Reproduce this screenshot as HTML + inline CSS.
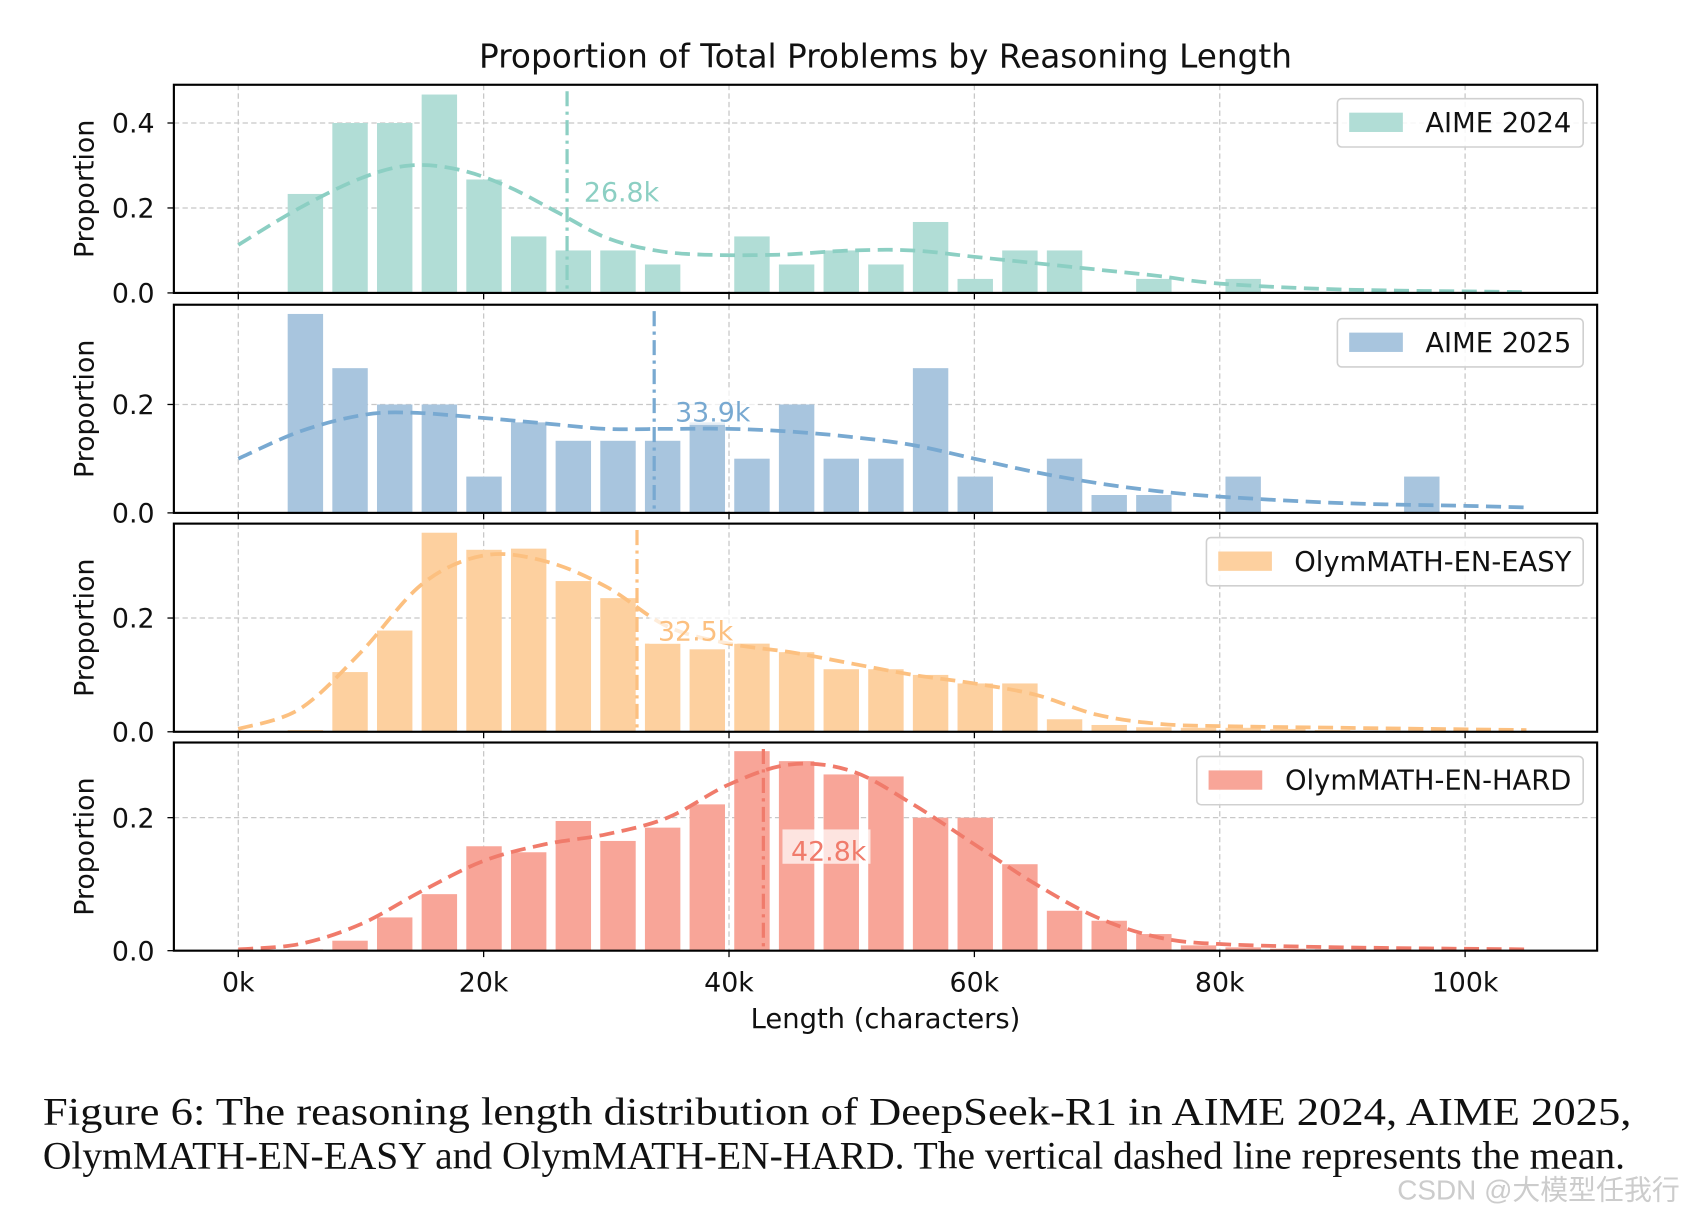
<!DOCTYPE html>
<html><head><meta charset="utf-8"><style>
html,body{margin:0;padding:0;background:#fff;}
svg{display:block;}
text{font-family:"DejaVu Sans","Liberation Sans",sans-serif;}
</style></head><body>
<svg id="chart" width="1683" height="1220" viewBox="0 0 1568 1137" preserveAspectRatio="none" xmlns="http://www.w3.org/2000/svg">
<text x="825" y="63" font-size="30.5" text-anchor="middle" fill="#111">Proportion of Total Problems by Reasoning Length</text>
<text x="825" y="958" font-size="25.5" text-anchor="middle" fill="#111">Length (characters)</text>
<text x="40" y="1048" font-size="36" textLength="1480" lengthAdjust="spacingAndGlyphs" fill="#111" style="font-family:'Liberation Serif',serif">Figure 6:  The reasoning length distribution of DeepSeek-R1 in AIME 2024, AIME 2025,</text>
<text x="40" y="1089" font-size="36" textLength="1474" lengthAdjust="spacingAndGlyphs" fill="#111" style="font-family:'Liberation Serif',serif">OlymMATH-EN-EASY and OlymMATH-EN-HARD. The vertical dashed line represents the mean.</text>
<text x="1565" y="1118" font-size="26" text-anchor="end" fill="#ccc" style="font-family:'Liberation Sans','Noto Sans CJK SC',sans-serif">CSDN @大模型任我行</text>
</svg>
<script>
const xTicks = [0, 20, 40, 60, 80, 100];
const xTickLabels = ["0k", "20k", "40k", "60k", "80k", "100k"];
const binStart = 5.47, binStep = 3.64;
const names = ["AIME 2024", "AIME 2025", "OlymMATH-EN-EASY", "OlymMATH-EN-HARD"];
const means = [26.8, 33.9, 32.5, 42.8];
const vals2024 = [0.233,0.4,0.4,0.467,0.267,0.133,0.1,0.1,0.067,0,0.133,0.067,0.1,0.067,0.167,0.033,0.1,0.1,0,0.033,0,0.033];
const vals2025 = [0.367,0.267,0.2,0.2,0.067,0.167,0.133,0.133,0.133,0.167,0.1,0.2,0.1,0.1,0.267,0.067,0,0.1,0.033,0.033,0,0.067,0,0,0,0.067];
const valsEasy = [0.003,0.105,0.178,0.35,0.32,0.322,0.265,0.235,0.155,0.145,0.155,0.14,0.11,0.11,0.1,0.085,0.085,0.022,0.012,0.008,0.007,0.007,0.005,0.003];
const valsHard = [0.002,0.015,0.05,0.085,0.157,0.148,0.195,0.165,0.185,0.22,0.3,0.285,0.265,0.262,0.2,0.2,0.13,0.06,0.045,0.025,0.008,0.005,0.003,0.002];
const kdeX2024 = [0,5,10,14,18,22,26,30,34,38,44,50,55,60,65,70,75,80,90,105];
const kdeY2024 = [0.113,0.2,0.27,0.3,0.29,0.25,0.19,0.13,0.1,0.09,0.09,0.1,0.1,0.085,0.07,0.055,0.04,0.022,0.008,0.002];
const kdeX2025 = [0,5,10,14,20,25,30,35,40,45,50,55,60,65,70,75,80,90,100,105];
const kdeY2025 = [0.1,0.15,0.18,0.185,0.175,0.165,0.155,0.155,0.155,0.15,0.14,0.125,0.1,0.075,0.055,0.04,0.03,0.018,0.013,0.01];
const kdeXEasy = [0,5,10,15,20,25,30,35,40,45,50,55,60,65,70,75,80,90,105];
const kdeYEasy = [0.005,0.04,0.14,0.26,0.31,0.3,0.255,0.185,0.155,0.14,0.12,0.1,0.085,0.065,0.03,0.014,0.01,0.007,0.003];
const kdeXHard = [0,5,10,15,20,25,30,35,40,45,50,55,60,65,70,75,80,90,105];
const kdeYHard = [0.002,0.01,0.04,0.09,0.135,0.16,0.175,0.2,0.25,0.28,0.27,0.22,0.16,0.1,0.05,0.02,0.01,0.005,0.002];
const yTicks = [[0,0.2,0.4],[0,0.2],[0,0.2],[0,0.2]];
const yMax = [0.49,0.384,0.366,0.313];
const valsAll = [vals2024, vals2025, valsEasy, valsHard];
const kdeXs = [kdeX2024, kdeX2025, kdeXEasy, kdeXHard];
const kdeYs = [kdeY2024, kdeY2025, kdeYEasy, kdeYHard];
const barColors = ["#b1ddd6","#a8c5de","#fdd09f","#f8a598"];
const lineColors = ["#8ccfc3","#78a9d1","#fcc080","#f07b6b"];
const legendX = [1246,1246,1124,1115];
const meanLabelPos = [[544,179],[629,384],[613,588],[737,793]];
const panels = [[79,273],[284,478],[488,682],[692,886]];
const left = 162, right = 1488;
const X = k => 222 + k * 11.43;
const NS = "http://www.w3.org/2000/svg";
const svg = document.getElementById("chart");
function mk(tag, attrs, parent) {
  const e = document.createElementNS(NS, tag);
  for (const k in attrs) e.setAttribute(k, attrs[k]);
  (parent || svg).appendChild(e);
  return e;
}
panels.forEach((p, pi) => {
  const [top, bot] = p;
  const Y = v => bot - v / yMax[pi] * (bot - top);
  const g = mk("g", {});
  
  
  xTicks.forEach(t => {
    const l = mk("line", {x1:X(t), x2:X(t), y1:top, y2:bot, stroke:"#c8c8c8", "stroke-width":1.2, "stroke-dasharray":"5,3"}, g);
    
    
  });
  yTicks[pi].forEach(t => {
    if (t > 0) {
      const l = mk("line", {x1:left, x2:right, y1:Y(t), y2:Y(t), stroke:"#c8c8c8", "stroke-width":1.2, "stroke-dasharray":"5,3"}, g);
      
      
    }
    mk("line", {x1:left-6, x2:left, y1:Y(t), y2:Y(t), stroke:"#000", "stroke-width":1.2}, g);
    const tx = mk("text", {x:left-18, y:Y(t)+9, "font-size":25, "text-anchor":"end", fill:"#111"}, g);
    tx.textContent = t.toFixed(1);
    
    
  });
  valsAll[pi].forEach((v, i) => {
    if (v <= 0) return;
    const c = binStart + binStep * i;
    const r = mk("rect", {x:X(c) - 16.5, width:33, y:Y(v), height:bot - Y(v), fill:barColors[pi]}, g);
    
    
  });
  const pts = kdeXs[pi].map((k, i) => [X(k), Y(kdeYs[pi][i])]);
  let d = "M" + pts[0][0] + "," + pts[0][1];
  for (let i = 0; i < pts.length - 1; i++) {
    const p0 = pts[Math.max(0, i-1)], p1 = pts[i], p2 = pts[i+1], p3 = pts[Math.min(pts.length-1, i+2)];
    d += " C" + (p1[0] + (p2[0]-p0[0])/6) + "," + (p1[1] + (p2[1]-p0[1])/6) + " " + (p2[0] - (p3[0]-p1[0])/6) + "," + (p2[1] - (p3[1]-p1[1])/6) + " " + p2[0] + "," + p2[1];
  }
  const kp = mk("path", {d:d, fill:"none", stroke:lineColors[pi], "stroke-width":3.5, "stroke-dasharray":"14,7"}, g);
  
  
  const ml = mk("line", {x1:X(means[pi]), x2:X(means[pi]), y1:top+6, y2:bot, stroke:lineColors[pi], "stroke-width":3, "stroke-dasharray":"14,5,3,5"}, g);
  
  
  const [lx, ly] = meanLabelPos[pi];
  mk("rect", {x:lx-8, y:ly-20, width:82, height:32, fill:"#fff", "fill-opacity":0.7}, g);
  const mt = mk("text", {x:lx, y:ly+9, "font-size":25, fill:lineColors[pi]}, g);
  mt.textContent = means[pi].toFixed(1) + "k";
  
  
  mk("rect", {x:left, y:top, width:right-left, height:bot-top, fill:"none", stroke:"#000", "stroke-width":2}, g);
  xTicks.forEach(t => mk("line", {x1:X(t), x2:X(t), y1:bot, y2:bot+6, stroke:"#000", "stroke-width":1.2}, g));
  const yl = mk("text", {x:0, y:0, "font-size":25, "text-anchor":"middle", fill:"#111", transform:"translate(87," + ((top+bot)/2) + ") rotate(-90)"}, g);
  yl.textContent = "Proportion";
  
  
  const lg = mk("g", {}, g);
  
  
  mk("rect", {x:legendX[pi], y:top+13, width:1475-legendX[pi], height:45, rx:4, fill:"#fff", "fill-opacity":0.85, stroke:"#d0d0d0", "stroke-width":1.5}, lg);
  mk("rect", {x:legendX[pi]+11, y:top+26, width:50, height:18, fill:barColors[pi]}, lg);
  const lt = mk("text", {x:1464, y:top+44, "font-size":25.5, "text-anchor":"end", fill:"#111"}, lg);
  lt.textContent = names[pi];
  if (pi === 3) {
    xTicks.forEach((t, i) => {
      const tl = mk("text", {x:X(t), y:bot+38, "font-size":25, "text-anchor":"middle", fill:"#111"}, g);
      tl.textContent = xTickLabels[i];
      
      
    });
  }
});
</script>
</body></html>
